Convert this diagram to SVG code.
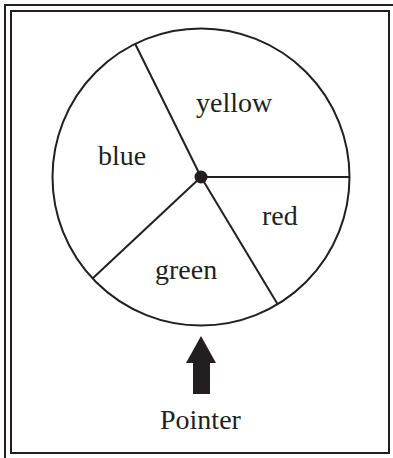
<svg xmlns="http://www.w3.org/2000/svg" width="393" height="458" viewBox="0 0 393 458">
<style>
.frame{fill:none;stroke:#231f20;stroke-width:2}
.ln{fill:none;stroke:#231f20;stroke-width:2}
.lbl{font-family:"Liberation Serif","Times New Roman",serif;font-size:28px;fill:#231f20}
</style>
<rect width="393" height="458" fill="#fff"/>
<g id="frame">
<rect class="frame" x="5" y="5" width="400" height="470"/>
<rect class="frame" x="11" y="11" width="378" height="442"/>
</g>
<g id="spinner">
<circle class="ln" cx="201" cy="177" r="148.5"/>
</g>
<g id="connectors">
<line class="ln" x1="201" y1="177" x2="135" y2="43.5"/>
<line class="ln" x1="201" y1="177" x2="349.5" y2="177"/>
<line class="ln" x1="201" y1="177" x2="277.5" y2="304"/>
<line class="ln" x1="201" y1="177" x2="92.5" y2="278.5"/>
</g>
<g id="hub"><circle cx="201" cy="177" r="6.5" fill="#231f20"/></g>
<g id="yellow"><text class="lbl" x="196" y="112">yellow</text></g>
<g id="blue"><text class="lbl" x="98" y="165">blue</text></g>
<g id="red"><text class="lbl" x="262" y="225">red</text></g>
<g id="green"><text class="lbl" x="155" y="279">green</text></g>
<g id="pointer">
<polygon points="201,336 216,363 210,363 210,394 193,394 193,363 186,363" fill="#231f20"/>
<text class="lbl" x="160" y="429">Pointer</text>
</g>
</svg>
